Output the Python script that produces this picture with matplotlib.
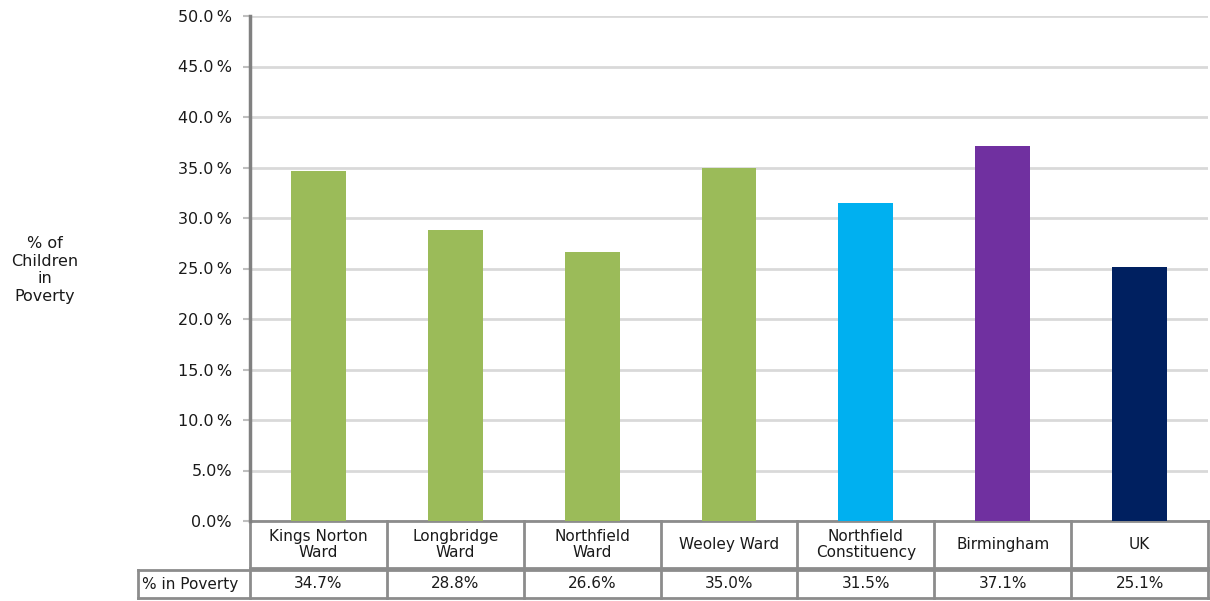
import matplotlib.pyplot as plt
from matplotlib.ticker import FuncFormatter

categories = ["Kings Norton\nWard", "Longbridge\nWard", "Northfield\nWard", "Weoley Ward",
              "Northfield\nConstituency", "Birmingham", "UK"]
poverty = [34.7, 28.8, 26.6, 35.0, 31.5, 37.1, 25.1]
colors = ["#9BBB59", "#9BBB59", "#9BBB59", "#9BBB59", "#00B0F0", "#7030A0", "#002060"]
row_label = "% in Poverty"

plt.rcParams["font.family"] = "DejaVu Sans"
fig = plt.figure(figsize=(12.1, 6.01), dpi=100)
ax = fig.add_axes([250 / 1210, 1 - 521 / 601, 958 / 1210, 505 / 601])

x = range(len(categories))
ax.bar(x, poverty, width=0.4, color=colors, zorder=3)
ax.set_xlim(-0.5, len(categories) - 0.5)
ax.set_ylim(0, 50)
ax.set_yticks(range(0, 51, 5))
ax.yaxis.set_major_formatter(FuncFormatter(lambda v, p: "%.1f\u2009%%" % v if v >= 10 else "%.1f%%" % v))
ax.grid(axis="y", color="#D9D9D9", linewidth=2, zorder=0)
ax.tick_params(axis="y", length=5, width=1.5, color="#BFBFBF", labelsize=11.5, pad=8,
               labelcolor="#1a1a1a")
ax.set_xticks([])
for s in ["top", "right", "bottom"]:
    ax.spines[s].set_visible(False)
ax.spines["left"].set_color("#808080")
ax.spines["left"].set_linewidth(2.5)

fig.text(45 / 1210, 1 - 270 / 601, "% of\nChildren\nin\nPoverty", ha="center", va="center",
         fontsize=11.5, linespacing=1.2, color="#1a1a1a")

# data table below the axis
tr = ax.get_xaxis_transform()
lc = "#8C8C8C"
lw = 2
h1 = -47 / 505
h2a = -49 / 505
h2b = -77 / 505
n = len(categories)
ax.plot([-0.5, n - 0.5], [0, 0], transform=tr, color=lc, lw=lw, clip_on=False)
ax.plot([-0.5, n - 0.5], [h1, h1], transform=tr, color=lc, lw=lw, clip_on=False)
lab_left = -0.5 - 112 / 958 * n
ax.plot([lab_left, n - 0.5], [h2a, h2a], transform=tr, color=lc, lw=lw, clip_on=False)
ax.plot([lab_left, n - 0.5], [h2b, h2b], transform=tr, color=lc, lw=lw, clip_on=False)
for i in range(n + 1):
    xe = i - 0.5
    ax.plot([xe, xe], [0, h1], transform=tr, color=lc, lw=lw, clip_on=False)
    ax.plot([xe, xe], [h2a, h2b], transform=tr, color=lc, lw=lw, clip_on=False)
ax.plot([lab_left, lab_left], [h2a, h2b], transform=tr, color=lc, lw=lw, clip_on=False)

for i, (c, v) in enumerate(zip(categories, poverty)):
    ax.text(i, h1 / 2, c, transform=tr, ha="center", va="center", fontsize=11, linespacing=1.1,
            color="#1a1a1a")
    ax.text(i, (h2a + h2b) / 2, "%.1f%%" % v, transform=tr, ha="center", va="center", fontsize=11,
            color="#1a1a1a")
ax.text(lab_left + 0.03, (h2a + h2b) / 2, row_label, transform=tr, ha="left", va="center",
        fontsize=11, color="#1a1a1a")

fig.savefig("out.png", dpi=100)
